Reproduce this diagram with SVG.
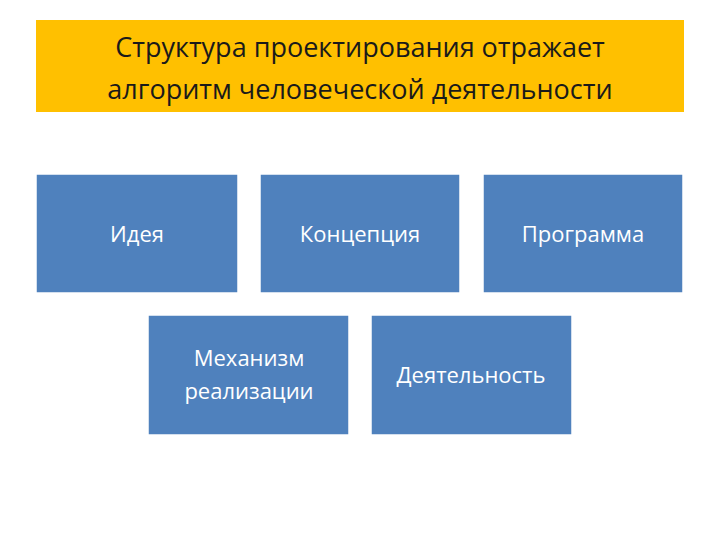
<svg xmlns="http://www.w3.org/2000/svg" width="720" height="540" viewBox="0 0 720 540">
<style>
.b{fill:#4F81BD;stroke:#fff;stroke-width:1.5}
.t{font-family:"Open Sans","Liberation Sans",sans-serif;fill:#fff;font-size:22px;text-anchor:middle}
.h{font-family:"Open Sans","Liberation Sans",sans-serif;fill:#1a1a1a;font-size:27px;text-anchor:middle}
</style>
<rect width="720" height="540" fill="#fff"/>
<g id="title"><rect x="36" y="20" width="648" height="92" fill="#FFC000"/>
<text class="h" x="360" y="57">Структура проектирования отражает</text>
<text class="h" x="360" y="99">алгоритм человеческой деятельности</text></g>
<g id="n1"><rect class="b" x="36" y="174" width="202" height="119"/><text class="t" x="137" y="242">Идея</text></g>
<g id="n2"><rect class="b" x="260" y="174" width="200" height="119"/><text class="t" x="360" y="242">Концепция</text></g>
<g id="n3"><rect class="b" x="483" y="174" width="200" height="119"/><text class="t" x="583" y="242">Программа</text></g>
<g id="n4"><rect class="b" x="148" y="315" width="201" height="120"/><text class="t" x="249" y="366">Механизм</text><text class="t" x="249" y="399">реализации</text></g>
<g id="n5"><rect class="b" x="371" y="315" width="201" height="120"/><text class="t" x="471" y="383">Деятельность</text></g>
<g id="connectors"/>
</svg>
